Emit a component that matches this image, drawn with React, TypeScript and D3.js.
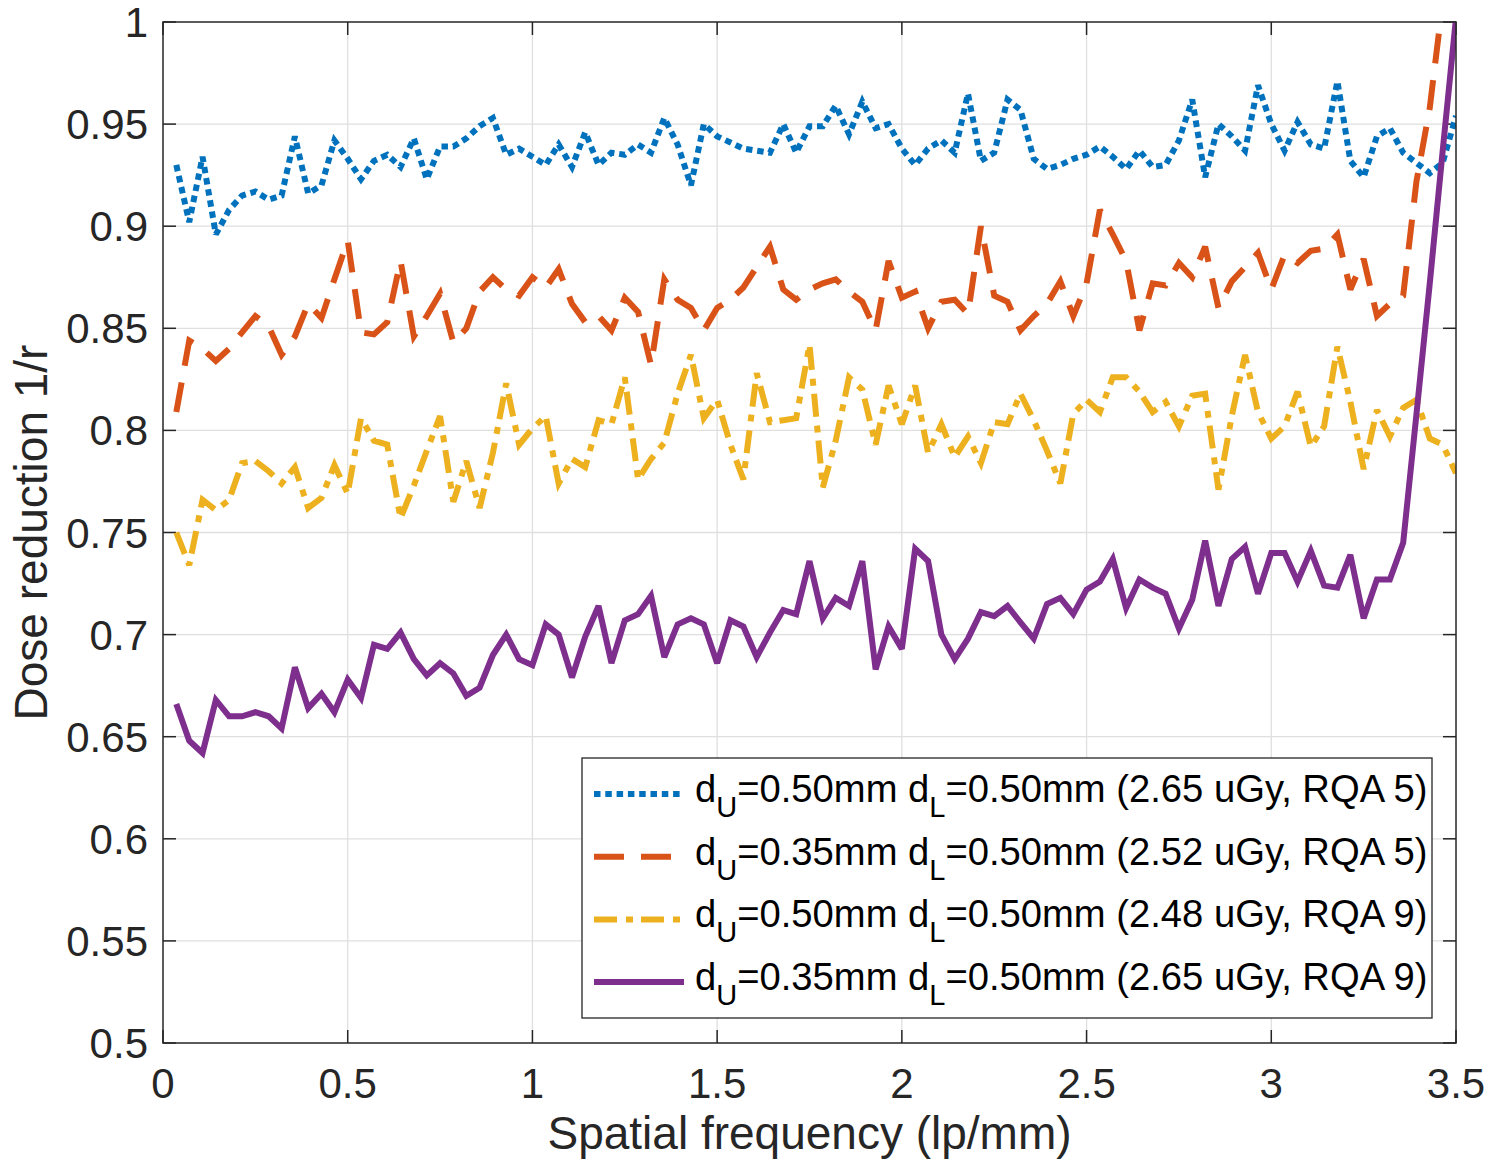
import React, { useEffect, useRef } from 'react';
import * as d3 from 'd3';

// spatial frequency samples (lp/mm)
const frequency = [
  0.036, 0.071, 0.107, 0.143, 0.179, 0.214, 0.25, 0.286, 0.321, 0.357, 0.393, 0.429, 0.464, 0.5,
  0.536, 0.571, 0.607, 0.643, 0.679, 0.714, 0.75, 0.786, 0.821, 0.857, 0.893, 0.929, 0.964, 1.0,
  1.036, 1.071, 1.107, 1.143, 1.179, 1.214, 1.25, 1.286, 1.321, 1.357, 1.393, 1.429, 1.464, 1.5,
  1.536, 1.571, 1.607, 1.643, 1.679, 1.714, 1.75, 1.786, 1.821, 1.857, 1.893, 1.929, 1.964, 2.0,
  2.036, 2.071, 2.107, 2.143, 2.179, 2.214, 2.25, 2.286, 2.321, 2.357, 2.393, 2.429, 2.464, 2.5,
  2.536, 2.571, 2.607, 2.643, 2.679, 2.714, 2.75, 2.786, 2.821, 2.857, 2.893, 2.929, 2.964, 3.0,
  3.036, 3.071, 3.107, 3.143, 3.179, 3.214, 3.25, 3.286, 3.321, 3.357, 3.393, 3.429, 3.464, 3.5,
];

// dU=0.50mm, RQA 5
const thick5 = [
  0.93, 0.902, 0.934, 0.896, 0.908, 0.915, 0.917, 0.913, 0.915, 0.944, 0.916, 0.92, 0.942, 0.933,
  0.923, 0.932, 0.935, 0.929, 0.943, 0.923, 0.939, 0.939, 0.943, 0.949, 0.953, 0.935, 0.938, 0.934,
  0.93, 0.94, 0.929, 0.946, 0.93, 0.936, 0.935, 0.94, 0.936, 0.953, 0.94, 0.92, 0.95, 0.944,
  0.941, 0.938, 0.937, 0.936, 0.95, 0.936, 0.949, 0.949, 0.959, 0.945, 0.961, 0.948, 0.95, 0.938,
  0.93, 0.938, 0.942, 0.936, 0.965, 0.932, 0.936, 0.962, 0.957, 0.933, 0.928, 0.93, 0.933, 0.935,
  0.939, 0.934, 0.928, 0.937, 0.929, 0.93, 0.942, 0.962, 0.924, 0.95, 0.944, 0.937, 0.969, 0.95,
  0.937, 0.951, 0.94, 0.938, 0.971, 0.932, 0.924, 0.944, 0.948, 0.936, 0.931, 0.926, 0.931, 0.954,
];

// dU=0.35mm, RQA 5
const thin5 = [
  0.809, 0.844, 0.84, 0.834, 0.84, 0.848, 0.856, 0.851, 0.837, 0.846, 0.862, 0.855, 0.874, 0.893,
  0.848, 0.847, 0.853, 0.883, 0.846, 0.856, 0.867, 0.843, 0.85, 0.868, 0.875, 0.869, 0.866, 0.875,
  0.87, 0.879, 0.862, 0.853, 0.856, 0.849, 0.865, 0.858, 0.832, 0.874, 0.864, 0.86, 0.849, 0.86,
  0.864, 0.87, 0.88, 0.89, 0.869, 0.864, 0.869, 0.872, 0.874, 0.868, 0.863, 0.849, 0.883, 0.865,
  0.868, 0.85, 0.863, 0.864, 0.857, 0.9, 0.866, 0.863, 0.849, 0.856, 0.862, 0.873, 0.856, 0.872,
  0.908, 0.896, 0.883, 0.849, 0.872, 0.871, 0.882, 0.875, 0.89, 0.86, 0.873, 0.88, 0.887, 0.869,
  0.886, 0.882, 0.888, 0.889, 0.896, 0.869, 0.884, 0.856, 0.862, 0.866, 0.922, 0.958, 1.01, 1.08,
];

// dU=0.50mm, RQA 9
const thick9 = [
  0.75, 0.734, 0.766, 0.761, 0.766, 0.784, 0.785, 0.78, 0.774, 0.782, 0.762, 0.767, 0.783, 0.769,
  0.806, 0.795, 0.793, 0.757, 0.773, 0.79, 0.807, 0.765, 0.785, 0.762, 0.789, 0.823, 0.793, 0.801,
  0.807, 0.774, 0.786, 0.782, 0.805, 0.803, 0.826, 0.776, 0.786, 0.794, 0.818, 0.837, 0.806, 0.815,
  0.793, 0.776, 0.828, 0.804, 0.805, 0.806, 0.842, 0.772, 0.795, 0.826, 0.82, 0.793, 0.822, 0.803,
  0.822, 0.789, 0.803, 0.787, 0.797, 0.784, 0.804, 0.803, 0.818, 0.805, 0.79, 0.774, 0.808, 0.815,
  0.809, 0.826, 0.826, 0.819, 0.809, 0.814, 0.802, 0.817, 0.818, 0.771, 0.807, 0.837, 0.809, 0.796,
  0.802, 0.819, 0.792, 0.802, 0.841, 0.814, 0.781, 0.81, 0.797, 0.811, 0.815, 0.796, 0.793, 0.779,
];

// dU=0.35mm, RQA 9
const thin9 = [
  0.666, 0.648, 0.642, 0.668, 0.66, 0.66, 0.662, 0.66, 0.654, 0.684, 0.664, 0.671, 0.662, 0.678,
  0.669, 0.695, 0.693, 0.701, 0.688, 0.68, 0.686, 0.681, 0.67, 0.674, 0.69, 0.7, 0.688, 0.685,
  0.705, 0.7, 0.679, 0.699, 0.714, 0.686, 0.707, 0.71, 0.719, 0.689, 0.705, 0.708, 0.705, 0.686,
  0.707, 0.704, 0.689, 0.701, 0.712, 0.71, 0.736, 0.708, 0.718, 0.714, 0.736, 0.683, 0.704, 0.693,
  0.742, 0.736, 0.7, 0.688, 0.698, 0.711, 0.709, 0.714, 0.706, 0.698, 0.715, 0.718, 0.71, 0.722,
  0.726, 0.737, 0.713, 0.727, 0.723, 0.72, 0.703, 0.717, 0.746, 0.714, 0.737, 0.743, 0.72, 0.74,
  0.74, 0.726, 0.741, 0.724, 0.723, 0.739, 0.708, 0.727, 0.727, 0.745, 0.808, 0.872, 0.937, 1.002,
];

const upperThickness = ['0.50', '0.35', '0.50', '0.35'];
const lowerThickness = ['0.50', '0.50', '0.50', '0.50'];
const doseLabels = ['2.65', '2.52', '2.48', '2.65'];
const beamQuality = ['RQA 5', 'RQA 5', 'RQA 9', 'RQA 9'];

const xTicks = [0, 0.5, 1, 1.5, 2, 2.5, 3, 3.5];
const yTicks = [0.5, 0.55, 0.6, 0.65, 0.7, 0.75, 0.8, 0.85, 0.9, 0.95, 1];

const series = [
  { values: thick5, color: '#0072BD', dash: '6.5,4.8' },
  { values: thin5, color: '#D95319', dash: '30,17' },
  { values: thick9, color: '#EDB120', dash: '23,9,7,8' },
  { values: thin9, color: '#7E2F8E', dash: null },
];

const FONT = '"Liberation Sans", Arial, Helvetica, sans-serif';
const INK = '#262626';

export default function App() {
  const svgRef = useRef<SVGSVGElement>(null);

  useEffect(() => {
    if (!svgRef.current) return;
    const svg = d3.select(svgRef.current);
    svg.selectAll('*').remove();

    const plot = { left: 163, right: 1456, top: 22, bottom: 1043 };
    const x = d3.scaleLinear().domain([0, 3.5]).range([plot.left, plot.right]);
    const y = d3.scaleLinear().domain([0.5, 1]).range([plot.bottom, plot.top]);

    svg.append('rect').attr('width', 1498).attr('height', 1176).attr('fill', '#fff');

    svg
      .append('defs')
      .append('clipPath')
      .attr('id', 'plot-clip')
      .append('rect')
      .attr('x', plot.left)
      .attr('y', plot.top)
      .attr('width', plot.right - plot.left)
      .attr('height', plot.bottom - plot.top);

    // grid
    const grid = svg.append('g').attr('stroke', '#dfdfdf').attr('stroke-width', 1.3);
    grid
      .selectAll('line.v')
      .data(xTicks.slice(1, -1))
      .join('line')
      .attr('x1', (d) => x(d))
      .attr('x2', (d) => x(d))
      .attr('y1', plot.top)
      .attr('y2', plot.bottom);
    grid
      .selectAll('line.h')
      .data(yTicks.slice(1, -1))
      .join('line')
      .attr('x1', plot.left)
      .attr('x2', plot.right)
      .attr('y1', (d) => y(d))
      .attr('y2', (d) => y(d));

    // ticks (inward, on all four sides)
    const tickLen = 13;
    const ticks = svg.append('g').attr('stroke', INK).attr('stroke-width', 1.5);
    xTicks.forEach((t) => {
      ticks.append('line').attr('x1', x(t)).attr('x2', x(t)).attr('y1', plot.bottom).attr('y2', plot.bottom - tickLen);
      ticks.append('line').attr('x1', x(t)).attr('x2', x(t)).attr('y1', plot.top).attr('y2', plot.top + tickLen);
    });
    yTicks.forEach((t) => {
      ticks.append('line').attr('x1', plot.left).attr('x2', plot.left + tickLen).attr('y1', y(t)).attr('y2', y(t));
      ticks.append('line').attr('x1', plot.right).attr('x2', plot.right - tickLen).attr('y1', y(t)).attr('y2', y(t));
    });

    // data lines
    const line = d3
      .line<number>()
      .x((_, i) => x(frequency[i]))
      .y((d) => y(d));

    const lines = svg.append('g').attr('clip-path', 'url(#plot-clip)');
    series.forEach((s) => {
      lines
        .append('path')
        .datum(s.values)
        .attr('fill', 'none')
        .attr('stroke', s.color)
        .attr('stroke-width', 6)
        .attr('stroke-linejoin', 'miter')
        .attr('stroke-miterlimit', 3)
        .attr('stroke-dasharray', s.dash)
        .attr('d', line);
    });

    // box
    svg
      .append('rect')
      .attr('x', plot.left)
      .attr('y', plot.top)
      .attr('width', plot.right - plot.left)
      .attr('height', plot.bottom - plot.top)
      .attr('fill', 'none')
      .attr('stroke', INK)
      .attr('stroke-width', 1.5);

    // tick labels
    const labels = svg.append('g').attr('font-family', FONT).attr('font-size', 42).attr('fill', INK);
    labels
      .selectAll('text.x')
      .data(xTicks)
      .join('text')
      .attr('x', (d) => x(d))
      .attr('y', 1098)
      .attr('text-anchor', 'middle')
      .text((d) => String(d));
    labels
      .selectAll('text.y')
      .data(yTicks)
      .join('text')
      .attr('x', 148)
      .attr('y', (d) => y(d) + 15)
      .attr('text-anchor', 'end')
      .text((d) => String(d));

    // axis titles
    svg
      .append('text')
      .attr('x', (plot.left + plot.right) / 2)
      .attr('y', 1149)
      .attr('text-anchor', 'middle')
      .attr('font-family', FONT)
      .attr('font-size', 46)
      .attr('fill', INK)
      .text('Spatial frequency (lp/mm)');
    svg
      .append('text')
      .attr('transform', `translate(47,${(plot.top + plot.bottom) / 2}) rotate(-90)`)
      .attr('text-anchor', 'middle')
      .attr('font-family', FONT)
      .attr('font-size', 46)
      .attr('fill', INK)
      .text('Dose reduction 1/r');

    // legend
    const lg = { x: 582, y: 758, w: 850, h: 260 };
    const legend = svg.append('g');
    legend
      .append('rect')
      .attr('x', lg.x)
      .attr('y', lg.y)
      .attr('width', lg.w)
      .attr('height', lg.h)
      .attr('fill', '#fff')
      .attr('stroke', INK)
      .attr('stroke-width', 1.3);

    series.forEach((s, k) => {
      const rowY = lg.y + 36 + k * 62.7;
      legend
        .append('line')
        .attr('x1', lg.x + 12)
        .attr('x2', lg.x + 102)
        .attr('y1', rowY)
        .attr('y2', rowY)
        .attr('stroke', s.color)
        .attr('stroke-width', 6)
        .attr('stroke-dasharray', s.dash);

      const t = legend
        .append('text')
        .attr('x', lg.x + 113)
        .attr('y', rowY + 8)
        .attr('font-family', FONT)
        .attr('font-size', 38.2)
        .attr('fill', '#000');
      t.append('tspan').text('d');
      t.append('tspan').attr('font-size', 29).attr('dy', 15).text('U');
      t.append('tspan').attr('dy', -15).text(`=${upperThickness[k]}mm d`);
      t.append('tspan').attr('font-size', 29).attr('dy', 15).text('L');
      t
        .append('tspan')
        .attr('dy', -15)
        .text(`=${lowerThickness[k]}mm (${doseLabels[k]} uGy, ${beamQuality[k]})`);
    });
  }, []);

  return (
    <svg
      ref={svgRef}
      width={1498}
      height={1176}
      style={{ position: 'absolute', left: 0, top: 0, display: 'block' }}
    ></svg>
  );
}
